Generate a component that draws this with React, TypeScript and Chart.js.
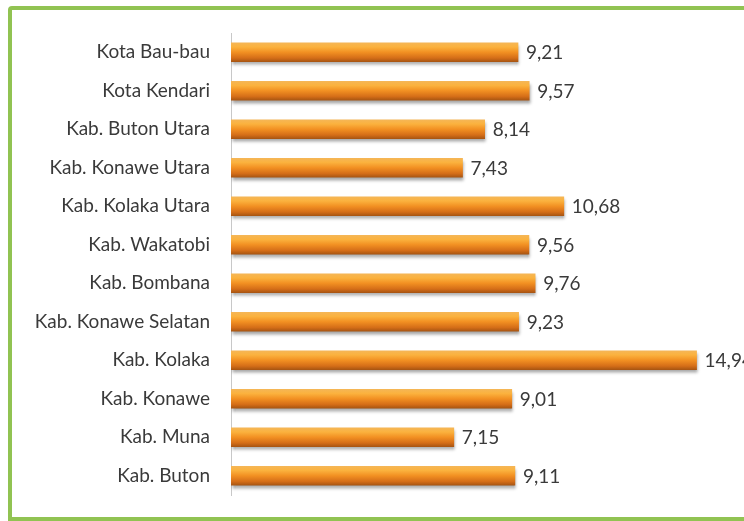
import React, { useEffect, useRef } from "react";
import { Chart, registerables } from "chart.js";

Chart.register(...registerables);

const categories = [
  "Kota Bau-bau",
  "Kota Kendari",
  "Kab. Buton Utara",
  "Kab. Konawe Utara",
  "Kab. Kolaka Utara",
  "Kab. Wakatobi",
  "Kab. Bombana",
  "Kab. Konawe Selatan",
  "Kab. Kolaka",
  "Kab. Konawe",
  "Kab. Muna",
  "Kab. Buton",
];
const values = [9.21, 9.57, 8.14, 7.43, 10.68, 9.56, 9.76, 9.23, 14.94, 9.01, 7.15, 9.11];
const valueLabels = ["9,21", "9,57", "8,14", "7,43", "10,68", "9,56", "9,76", "9,23", "14,94", "9,01", "7,15", "9,11"];

const FONT = "Lato, 'Open Sans', sans-serif";

const barStyle = {
  id: "barStyle",
  beforeDatasetDraw(chart: any) {
    const ctx = chart.ctx;
    const meta = chart.getDatasetMeta(0);
    meta.data.forEach((el: any) => {
      const top = el.y - el.height / 2;
      const bot = el.y + el.height / 2;
      const g = ctx.createLinearGradient(0, top, 0, bot);
      g.addColorStop(0, "#f5b656");
      g.addColorStop(0.22, "#fbb23e");
      g.addColorStop(0.5, "#f29022");
      g.addColorStop(0.8, "#d56e18");
      g.addColorStop(1, "#a85512");
      el.options = { ...el.options, backgroundColor: g };
    });
    ctx.save();
    ctx.shadowColor = "rgba(0,0,0,0.35)";
    ctx.shadowOffsetY = 3;
    ctx.shadowOffsetX = 1;
    ctx.shadowBlur = 3;
  },
  afterDatasetDraw(chart: any) {
    const ctx = chart.ctx;
    ctx.restore();
    const meta = chart.getDatasetMeta(0);
    ctx.save();
    ctx.font = `19px ${FONT}`;
    ctx.fillStyle = "#3a3a3a";
    ctx.textAlign = "left";
    ctx.textBaseline = "middle";
    meta.data.forEach((el: any, i: number) => {
      ctx.fillText(valueLabels[i], el.x + 8, el.y + 1);
    });
    ctx.restore();
  },
};

export default function App() {
  const ref = useRef<HTMLCanvasElement>(null);
  useEffect(() => {
    const chart = new Chart(ref.current!, {
      type: "bar",
      data: {
        labels: categories,
        datasets: [
          {
            data: values,
            backgroundColor: "#f39325",
            barThickness: 19,
            borderSkipped: false,
          },
        ],
      },
      options: {
        indexAxis: "y",
        animation: false,
        responsive: false,
        maintainAspectRatio: false,
        layout: { padding: { top: 33, bottom: 26, left: 0, right: 14.4 } },
        plugins: { legend: { display: false }, tooltip: { enabled: false } },
        scales: {
          x: { display: false, min: 0, max: 16 },
          y: {
            afterFit(axis: any) {
              axis.width = 231;
            },
            grid: { display: false, drawTicks: true, tickLength: 21 },
            border: { display: true, color: "#c8c8c8", width: 1 },
            ticks: {
              padding: 0,
              color: "#3a3a3a",
              font: { family: FONT, size: 19 },
              autoSkip: false,
            },
          },
        },
      },
      plugins: [barStyle],
    });
    return () => chart.destroy();
  }, []);
  return (
    <div style={{ position: "fixed", left: 0, top: 0, width: 744, height: 521, overflow: "hidden", background: "#fff" }}>
      <div
        style={{
          position: "absolute",
          left: 8,
          top: 6,
          width: 2000,
          height: 515,
          boxSizing: "border-box",
          border: "4px solid #91c352",
          borderTopLeftRadius: 4,
        }}
      />
      <canvas ref={ref} width={744} height={521} style={{ position: "absolute", left: 0, top: 0 }} />
    </div>
  );
}
